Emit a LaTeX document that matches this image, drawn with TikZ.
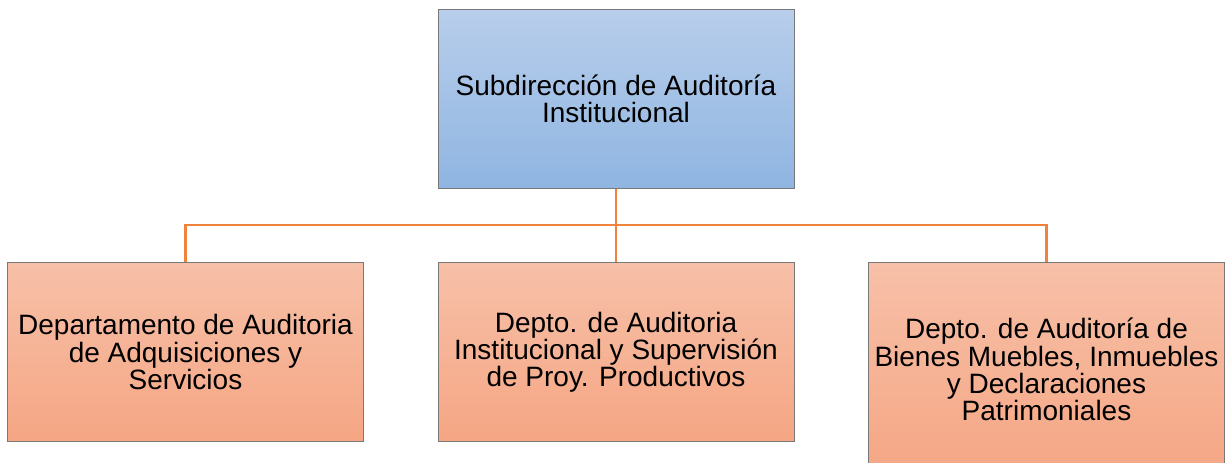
\documentclass[tikz,border=0pt]{standalone}
\usepackage{fontspec}
\setmainfont{Liberation Sans}
\usetikzlibrary{positioning}
\definecolor{bluetop}{RGB}{184,206,235}
\definecolor{bluebot}{RGB}{143,181,225}
\definecolor{salmontop}{RGB}{247,192,168}
\definecolor{salmonbot}{RGB}{245,166,132}
\definecolor{linkorange}{RGB}{240,130,60}
\definecolor{boxgrey}{RGB}{120,120,120}

\tikzset{
  box/.style={draw=boxgrey, line width=0.6pt, align=center, inner sep=0pt,
    minimum width=267pt, font=\fontsize{21}{20.4}\selectfont},
  topbox/.style={box, minimum height=134pt, top color=bluetop, bottom color=bluebot},
  deptbox/.style={box, minimum height=134pt, top color=salmontop, bottom color=salmonbot},
  link/.style={draw=linkorange, line width=1.6pt}
}

\begin{document}
\begin{tikzpicture}[x=0.75pt,y=-0.75pt]
    \useasboundingbox (0,0) rectangle (1231,463);
    % boxes
    \node[topbox] (sub) at (616,99) {Subdirección de Auditoría\\Institucional};
    \node[deptbox] (izq) at (185.5,352) {Departamento de Auditoria\\de Adquisiciones y\\Servicios};
    \node[deptbox] (mid) at (616,352) {Depto. de Auditoria\\Institucional y Supervisión\\de Proy. Productivos};
    \node[deptbox, minimum height=160pt] (der) at (1046.5,369.5) {Depto. de Auditoría de\\Bienes Muebles, Inmuebles\\y Declaraciones\\Patrimoniales};
    % connectors
    \coordinate (bus) at (616,225);
    \draw[link] (sub.south) -- (mid.north);
    \draw[link] (izq.north) |- (bus) -| (der.north);
\end{tikzpicture}
\end{document}
